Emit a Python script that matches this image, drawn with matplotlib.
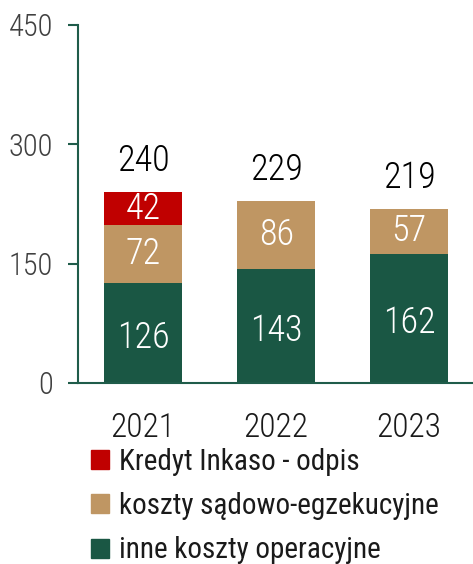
import matplotlib
matplotlib.use('Agg')
import matplotlib.pyplot as plt
from matplotlib.patches import Patch
import numpy as np

# data
years = ['2021', '2022', '2023']
inne = [126, 143, 162]
sadowe = [72, 86, 57]
odpis = [42, 0, 0]
totals = [240, 229, 219]

labels = ['Kredyt Inkaso - odpis', 'koszty sądowo-egzekucyjne', 'inne koszty operacyjne']
yticks = [0, 150, 300, 450]

c_red = '#C00000'
c_tan = '#BF9663'
c_green = '#1A5744'
c_axis = '#1F5C4A'

plt.rcParams['font.family'] = ['Roboto Condensed', 'DejaVu Sans']
plt.rcParams['font.weight'] = 'light'

fig = plt.figure(figsize=(4.73, 5.64), dpi=100)
ax = fig.add_axes([0.165, 0.321, 0.835, 0.635])

x = np.arange(len(years))
w = 0.59
bottom2 = np.array(inne)
bottom3 = bottom2 + np.array(sadowe)

ax.bar(x, inne, w, color=c_green, label=labels[2])
ax.bar(x, sadowe, w, bottom=bottom2, color=c_tan, label=labels[1])
ax.bar(x, odpis, w, bottom=bottom3, color=c_red, label=labels[0])

# segment labels
for i in range(len(years)):
    ax.text(x[i], inne[i] / 2 - 6, str(inne[i]), ha='center', va='center',
            color='white', fontsize=26)
    ax.text(x[i], inne[i] + sadowe[i] / 2, str(sadowe[i]), ha='center', va='center',
            color='white', fontsize=26)
    if odpis[i] > 0:
        ax.text(x[i], bottom3[i] + odpis[i] / 2, str(odpis[i]), ha='center', va='center',
                color='white', fontsize=26)
    ax.annotate(str(totals[i]), (x[i], totals[i]), xytext=(0, 22), textcoords='offset points',
                ha='center', va='center', fontsize=26, color='black')

ax.set_ylim(0, 450)
ax.set_xlim(-0.49, 2.48)
ax.set_yticks(yticks)
ax.set_xticks(x)
ax.set_xticklabels(years)

for s in ['top', 'right']:
    ax.spines[s].set_visible(False)
for s in ['left', 'bottom']:
    ax.spines[s].set_color(c_axis)
    ax.spines[s].set_linewidth(1.5)

ax.tick_params(axis='y', length=7, width=1.5, color=c_axis, labelsize=22,
               labelcolor='#404040', pad=11)
ax.tick_params(axis='x', length=0, labelsize=24, labelcolor='#1a1a1a', pad=21)

handles = [Patch(color=c_red), Patch(color=c_tan), Patch(color=c_green)]
leg = fig.legend(handles, labels, loc='upper left', bbox_to_anchor=(0.192, 0.206),
                 frameon=False, prop={'size': 21, 'weight': 'normal'},
                 handlelength=0.62, handleheight=0.62,
                 handletextpad=0.33, labelspacing=0.56, borderpad=0, borderaxespad=0,
                 labelcolor='#1a1a1a')

fig.savefig('out.png', dpi=100)
